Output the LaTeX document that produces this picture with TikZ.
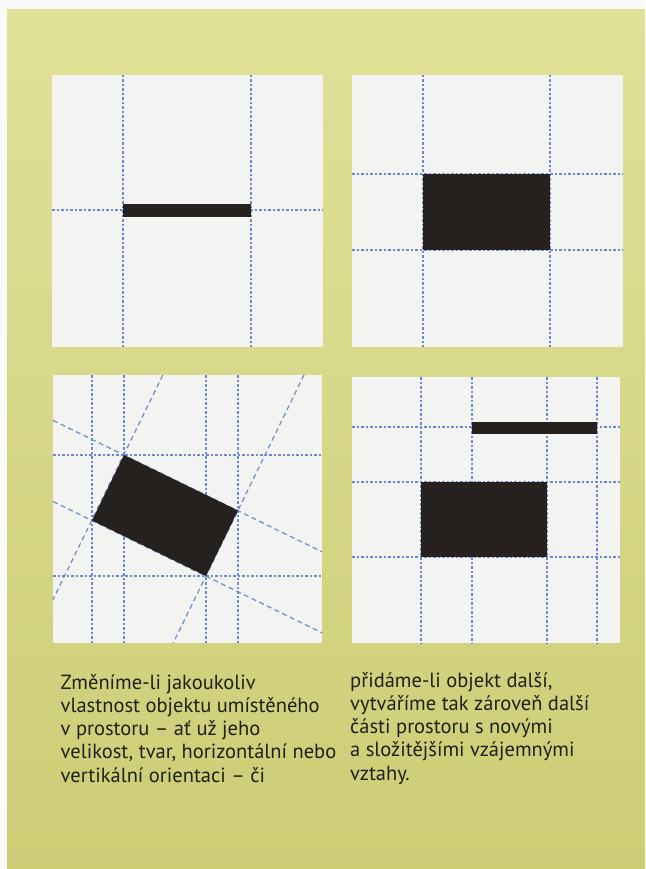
\documentclass[tikz,border=0pt]{standalone}
\usepackage{fontspec}
\setmainfont{PT Sans}
\definecolor{pagewhite}{RGB}{250,250,248}
\definecolor{ytop}{RGB}{224,225,152}
\definecolor{ybot}{RGB}{205,205,118}
\definecolor{panelc}{RGB}{243,243,241}
\definecolor{gridc}{RGB}{105,140,208}
\definecolor{inkc}{RGB}{38,33,30}
\definecolor{textc}{RGB}{32,32,26}
\tikzset{
  gridline/.style={draw=gridc, line width=1.2pt, dash pattern=on 2.5pt off 2pt},
  diagline/.style={draw=gridc, line width=1.2pt, dash pattern=on 5pt off 3.5pt},
  panelbox/.style={fill=panelc, draw=none},
  blockc/.style={fill=inkc, draw=none},
  txt/.style={anchor=base west, inner sep=0pt, text=textc, font=\fontsize{20.5}{23.3}\selectfont}
}
\begin{document}
\begin{tikzpicture}[x=1pt,y=-1pt]
\useasboundingbox (0,0) rectangle (645,869);
\fill[pagewhite] (0,0) rectangle (645,869);
\shade[top color=ytop, bottom color=ybot] (7,10) rectangle (645,869);

% ---------- panel 1 ----------
\fill[panelbox] (52,75) rectangle (323,347);
\draw[gridline] (123,75) -- (123,347);
\draw[gridline] (251,75) -- (251,347);
\draw[gridline] (52,210) -- (323,210);
\fill[blockc] (123,204) rectangle (251,217);

% ---------- panel 2 ----------
\fill[panelbox] (352,75) rectangle (623,347);
\draw[gridline] (423,75) -- (423,347);
\draw[gridline] (550,75) -- (550,347);
\draw[gridline] (352,174) -- (623,174);
\draw[gridline] (352,250) -- (623,250);
\fill[blockc] (423,174) rectangle (550,250);

% ---------- panel 3 ----------
\fill[panelbox] (53,375) rectangle (322,643);
\coordinate (A) at (124,455);
\coordinate (B) at (238,510.5);
\coordinate (C) at (206,576);
\coordinate (D) at (92,520.5);
\draw[gridline] (92,375) -- (92,643);
\draw[gridline] (124,375) -- (124,643);
\draw[gridline] (206,375) -- (206,643);
\draw[gridline] (238,375) -- (238,643);
\draw[gridline] (53,455) -- (322,455);
\draw[gridline] (53,576) -- (322,576);
\coordinate (ab1) at (53,420.4);   \coordinate (ab2) at (322,551.8);
\coordinate (dc1) at (53,501.5);   \coordinate (dc2) at (322,632.8);
\coordinate (ad1) at (162.8,375);  \coordinate (ad2) at (53,599.6);
\coordinate (bc1) at (304,375);    \coordinate (bc2) at (173.2,643);
\draw[diagline] (ab1) -- (ab2);
\draw[diagline] (dc1) -- (dc2);
\draw[diagline] (ad1) -- (ad2);
\draw[diagline] (bc1) -- (bc2);
\fill[blockc] (A) -- (B) -- (C) -- (D) -- cycle;

% ---------- panel 4 ----------
\fill[panelbox] (352,377) rectangle (620,643);
\draw[gridline] (421,377) -- (421,643);
\draw[gridline] (472,377) -- (472,643);
\draw[gridline] (547,377) -- (547,643);
\draw[gridline] (597,377) -- (597,643);
\draw[gridline] (352,427) -- (620,427);
\draw[gridline] (352,482) -- (620,482);
\draw[gridline] (352,557) -- (620,557);
\fill[blockc] (472,421.5) rectangle (597,434);
\fill[blockc] (421,482) rectangle (547,557);

% ---------- text ----------
\node[txt] (l1) at (60.5,689) {Změníme-li jakoukoliv};
\node[txt] (l2) at (60.5,712.3) {vlastnost objektu umístěného};
\node[txt] (l3) at (60.5,735.6) {v prostoru – ať už jeho};
\node[txt] (l4) at (60.5,758.9) {velikost, tvar, horizontální nebo};
\node[txt] (l5) at (60.5,782.2) {vertikální orientaci – či};
\node[txt] (r1) at (350,687) {přidáme-li objekt další,};
\node[txt] (r2) at (350,710.3) {vytváříme tak zároveň další};
\node[txt] (r3) at (350,733.6) {části prostoru s novými};
\node[txt] (r4) at (350,756.9) {a složitějšími vzájemnými};
\node[txt] (r5) at (350,780.2) {vztahy.};
\end{tikzpicture}
\end{document}
